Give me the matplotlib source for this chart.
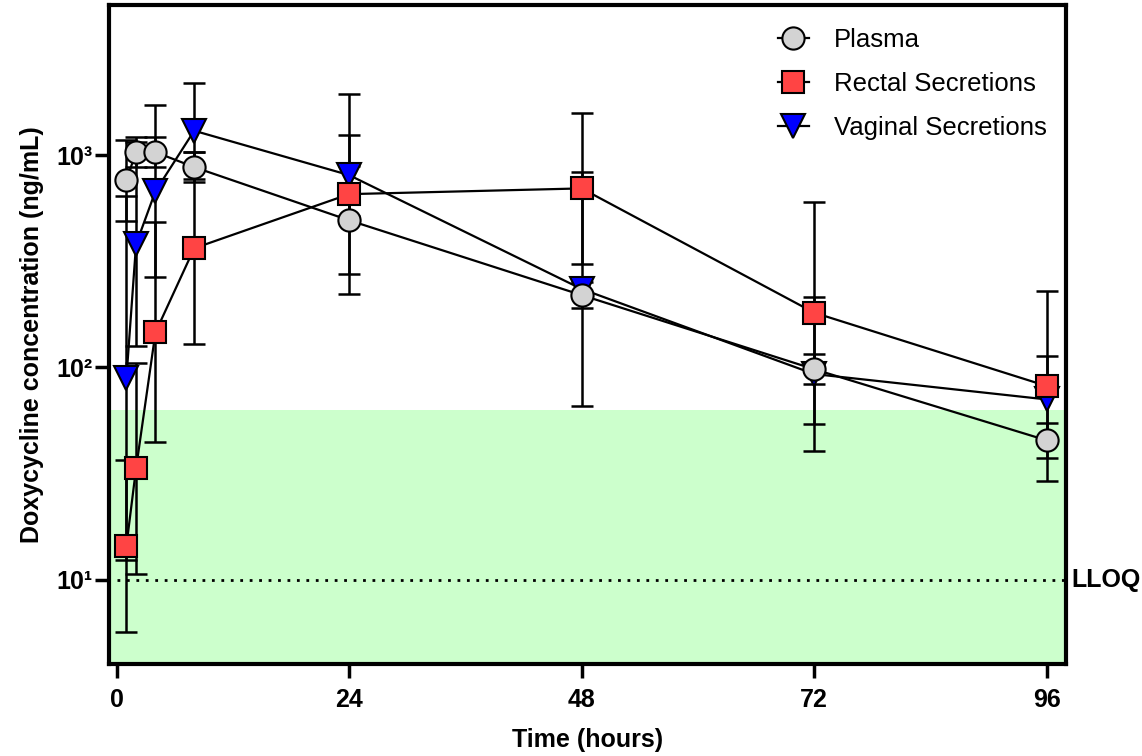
import numpy as np
import matplotlib
matplotlib.use("Agg")
import matplotlib.pyplot as plt

plt.rcParams['font.family'] = ['Liberation Sans', 'DejaVu Sans']

# sampling times (hours)
time_h = [1, 2, 4, 8, 24, 48, 72, 96]

# geometric means (ng/mL) and geometric SD factors
plasma = [762, 1033, 1033, 878, 493, 219, 98, 45.3]
plasma_gsd = [1.55, 1.18, 1.18, 1.18, 1.8, 1.15, 1.18, 1.21]

rectal = [14.4, 33.4, 146, 364, 655, 697, 181, 81.7]
rectal_gsd = [2.55, 3.13, 3.3, 2.84, 2.95, 2.26, 3.34, 2.81]

vaginal = [88.7, 380, 676, 1303, 805, 234, 93, 70.6]
vaginal_gsd = [7.2, 3.03, 2.55, 1.68, 1.55, 3.56, 2.31, 1.61]

lloq = 10
green_top = 63

series = [
    ("Vaginal Secretions", vaginal, vaginal_gsd, "v", "#0000ff"),
    ("Plasma", plasma, plasma_gsd, "o", "#d3d3d3"),
    ("Rectal Secretions", rectal, rectal_gsd, "s", "#ff4444"),
]

fig = plt.figure(figsize=(11.42, 7.56), dpi=100)
ax = fig.add_axes([0.0954, 0.1217, 0.838, 0.8717])

ax.set_yscale("log")
ax.set_xlim(-0.8, 98)
ax.set_ylim(4, 5100)

ax.axhspan(1, green_top, color="#ccffcc", zorder=0, lw=0)
ax.hlines(lloq, 0, 98, color="black", ls=(0, (1, 2.4)), lw=2, zorder=1)

handles = {}
for name, vals, gsd, mk, col in series:
    m = np.array(vals)
    f = np.array(gsd)
    yerr = [m - m / f, m * f - m]
    ax.errorbar(time_h, m, yerr=yerr, fmt="none", ecolor="black",
                elinewidth=1.8, capsize=8, capthick=1.8, zorder=2)
    ln, = ax.plot(time_h, m, color="black", lw=1.6, marker=mk,
                  markersize=16 if mk != "v" else 17, markerfacecolor=col,
                  markeredgecolor="black", markeredgewidth=1.5, zorder=3)
    handles[name] = ln

ax.text(1.006, lloq, "LLOQ", transform=ax.get_yaxis_transform(),
        va="center", ha="left", fontsize=18, fontweight="bold")

ax.set_xticks([0, 24, 48, 72, 96])
ax.set_yticks([10, 100, 1000])
ax.set_yticklabels(["10¹", "10²", "10³"])
ax.yaxis.set_minor_locator(matplotlib.ticker.NullLocator())

for s in ax.spines.values():
    s.set_linewidth(3)
ax.tick_params(axis="both", length=10, width=2.5, labelsize=18)
ax.tick_params(axis="x", pad=7)
ax.tick_params(axis="y", pad=2)
for lab in ax.get_xticklabels() + ax.get_yticklabels():
    lab.set_fontweight("bold")

ax.set_xlabel("Time (hours)", fontsize=18, fontweight="bold", labelpad=12)
ax.set_ylabel("Doxycycline concentration (ng/mL)", fontsize=18,
              fontweight="bold", labelpad=9)

order = ["Plasma", "Rectal Secretions", "Vaginal Secretions"]
ax.legend([handles[k] for k in order], order, loc="upper left",
          bbox_to_anchor=(0.663, 0.99), bbox_transform=fig.transFigure,
          frameon=False, fontsize=18.5, handlelength=1.2,
          labelspacing=0.78, handletextpad=1.0, borderpad=0.3)

fig.savefig("out.png", dpi=100)
